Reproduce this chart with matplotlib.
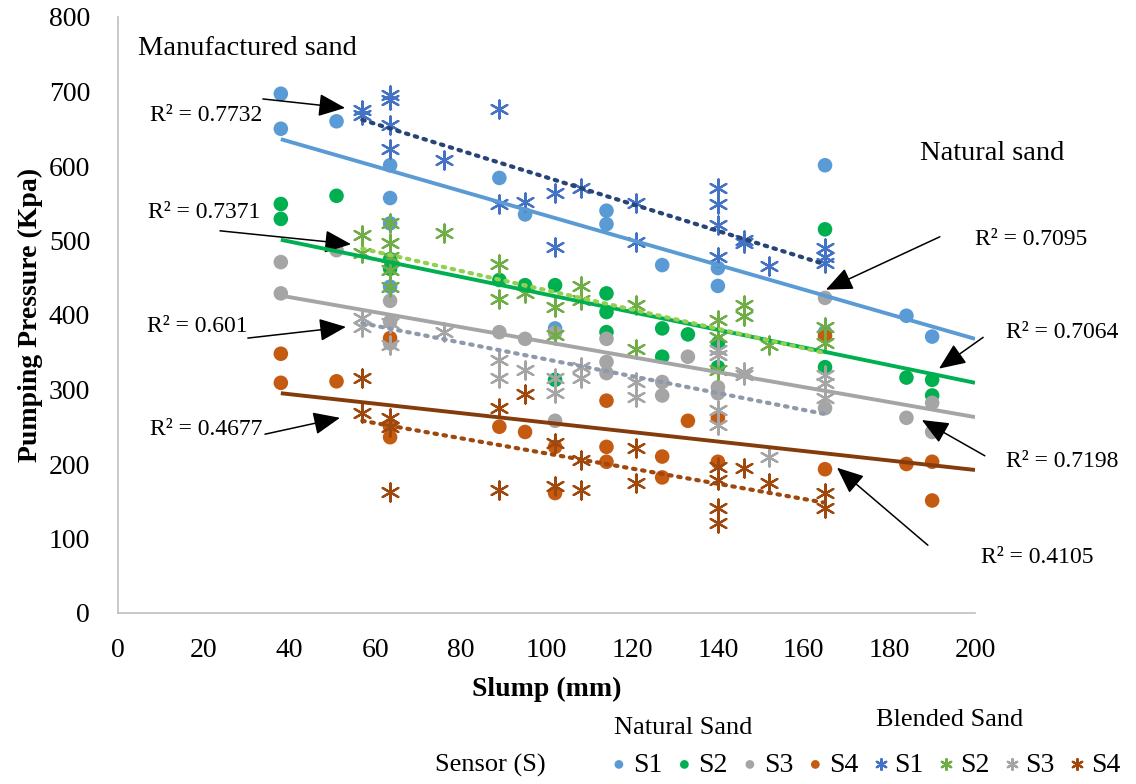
import numpy as np
import matplotlib
matplotlib.use("Agg")
import matplotlib.pyplot as plt

plt.rcParams['font.family'] = ['Liberation Serif', 'DejaVu Serif']

# Natural sand (circles)
nat_s1_x = [38, 38, 51, 63.5, 63.5, 63.5, 63.5, 89, 95, 102, 114, 114, 127, 140, 140, 165, 165, 184, 190]
nat_s1_y = [697, 650, 660, 601, 557, 523, 438, 584, 535, 382, 540, 522, 467, 463, 439, 601, 377, 399, 371]
nat_s2_x = [38, 38, 51, 63.5, 63.5, 89, 95, 102, 102, 114, 114, 114, 127, 127, 133, 140, 140, 165, 165, 184, 190, 190]
nat_s2_y = [549, 529, 560, 475, 462, 447, 440, 440, 313, 429, 404, 377, 382, 344, 374, 362, 330, 515, 330, 316, 313, 292]
nat_s3_x = [38, 38, 51, 63.5, 63.5, 63.5, 89, 95, 102, 102, 114, 114, 114, 127, 127, 133, 140, 140, 165, 165, 184, 190, 190]
nat_s3_y = [471, 429, 487, 419, 391, 362, 377, 368, 376, 258, 368, 337, 322, 310, 292, 344, 303, 295, 423, 275, 262, 282, 243]
nat_s4_x = [38, 38, 51, 63.5, 63.5, 63.5, 89, 95, 102, 102, 114, 114, 114, 127, 127, 133, 140, 140, 165, 165, 184, 190, 190]
nat_s4_y = [348, 309, 311, 369, 250, 236, 250, 243, 223, 161, 285, 223, 203, 210, 182, 258, 262, 203, 372, 193, 200, 203, 151]

# Blended sand (asterisks)
bl_s1_x = [57, 57, 63.5, 63.5, 63.5, 63.5, 76, 89, 89, 95, 102, 102, 108, 121, 121, 140, 140, 140, 140, 146, 146, 152, 165, 165, 165]
bl_s1_y = [675, 668, 695, 689, 655, 623, 608, 676, 549, 552, 564, 491, 570, 550, 498, 571, 549, 521, 478, 501, 497, 466, 490, 478, 470]
bl_s2_x = [57, 57, 63.5, 63.5, 63.5, 63.5, 63.5, 76, 89, 89, 95, 102, 102, 108, 108, 121, 121, 140, 140, 140, 146, 146, 152, 165, 165]
bl_s2_y = [507, 483, 523, 497, 478, 460, 438, 510, 468, 421, 429, 411, 373, 439, 420, 413, 355, 393, 371, 326, 413, 398, 360, 384, 362]
bl_s3_x = [57, 57, 63.5, 63.5, 76, 89, 89, 95, 102, 102, 108, 108, 121, 121, 140, 140, 140, 140, 146, 146, 152, 165, 165, 165]
bl_s3_y = [396, 384, 389, 360, 377, 340, 315, 326, 315, 295, 330, 315, 310, 290, 353, 346, 272, 252, 323, 319, 209, 319, 309, 289]
bl_s4_x = [57, 57, 63.5, 63.5, 63.5, 89, 89, 95, 102, 102, 108, 108, 121, 121, 140, 140, 140, 140, 146, 152, 165, 165]
bl_s4_y = [315, 268, 262, 250, 163, 275, 165, 294, 228, 170, 205, 165, 221, 175, 196, 179, 141, 121, 195, 175, 161, 141]

# Excel linear trend lines, values read at their two ends
nat_trend_x = [38, 200]
nat_trend_y = [(636, 368), (501, 309), (426, 263), (295, 192)]
bl_trend_x = [57, 165]
bl_trend_y = [(662, 468), (489, 349), (389, 267), (258, 148)]

nat_colors = ['#5B9BD5', '#00B050', '#A5A5A5', '#C55A11']
bl_colors = ['#4472C4', '#70AD47', '#A5A5A5', '#9E480E']
nat_trend_colors = ['#5B9BD5', '#00B050', '#A5A5A5', '#843C0C']
bl_trend_colors = ['#264478', '#92D050', '#8E9AAB', '#9E480E']

# R² labels: (text, text centre, arrow tail, arrow tip) in data units
r2_notes = [
    ("R² = 0.7732", (20.5, 668), (33.8, 690), (53.0, 678)),
    ("R² = 0.7371", (20.1, 537), (23.8, 513), (54.4, 495)),
    ("R² = 0.601", (18.4, 384), (30.3, 369), (53.2, 384)),
    ("R² = 0.4677", (20.5, 246), (34.3, 240), (51.8, 262)),
    ("R² = 0.7095", (213.1, 501), (191.8, 505), (165.2, 434)),
    ("R² = 0.7064", (220.3, 376), (201.9, 370), (191.6, 328)),
    ("R² = 0.7198", (220.3, 203), (202.3, 211), (187.6, 259)),
    ("R² = 0.4105", (214.5, 75), (189.0, 91), (167.8, 195)),
]

nat_series = [(nat_s1_x, nat_s1_y), (nat_s2_x, nat_s2_y), (nat_s3_x, nat_s3_y), (nat_s4_x, nat_s4_y)]
bl_series = [(bl_s1_x, bl_s1_y), (bl_s2_x, bl_s2_y), (bl_s3_x, bl_s3_y), (bl_s4_x, bl_s4_y)]
sensor_labels = ['S1', 'S2', 'S3', 'S4']

fig = plt.figure(figsize=(11.36, 7.84), dpi=100)
ax = fig.add_axes([118 / 1136, 1 - 613 / 784, (975 - 118) / 1136, (613 - 17) / 784])

handles = []
for (x, y), c in zip(nat_series, nat_colors):
    h = ax.scatter(x, y, s=110, color=c, edgecolors='none', zorder=3)
    handles.append(h)
for (x, y), c in zip(bl_series, bl_colors):
    h = ax.scatter(x, y, s=170, marker=(6, 2, 0), color=c, linewidths=1.6, zorder=3)
    handles.append(h)

# trend lines
for ys, c in zip(nat_trend_y, nat_trend_colors):
    ax.plot(nat_trend_x, ys, color=c, lw=2.8, zorder=4, solid_capstyle='butt')
for ys, c in zip(bl_trend_y, bl_trend_colors):
    ax.plot(bl_trend_x, ys, color=c, lw=3, ls=(0, (0.6, 1.6)), dash_capstyle='round', zorder=4)

for txt, tpos, tail, tip in r2_notes:
    ax.text(tpos[0], tpos[1], txt, ha='center', va='center', fontsize=17, clip_on=False)
    ax.annotate('', xy=tip, xytext=tail,
                arrowprops=dict(arrowstyle='-|>,head_length=0.75,head_width=0.32', color='black',
                                lw=1.1, shrinkA=0, shrinkB=0, mutation_scale=22),
                annotation_clip=False)

ax.text(30.3, 758, "Manufactured sand", ha='center', va='center', fontsize=20.5)
ax.text(204, 617, "Natural sand", ha='center', va='center', fontsize=20.5, clip_on=False)

ax.set_xlim(0, 200)
ax.set_ylim(0, 800)
ax.set_xticks(np.arange(0, 201, 20))
ax.set_yticks(np.arange(0, 801, 100))
ax.tick_params(length=0, labelsize=20)
ax.tick_params(axis='y', pad=20)
ax.tick_params(axis='x', pad=18)
for side in ['top', 'right']:
    ax.spines[side].set_visible(False)
for side in ['left', 'bottom']:
    ax.spines[side].set_color('#BFBFBF')
    ax.spines[side].set_linewidth(1.2)

ax.set_xlabel("Slump (mm)", fontsize=20, fontweight='bold', labelpad=10)
ax.set_ylabel("Pumping Pressure (Kpa)", fontsize=20, fontweight='bold', labelpad=4)

fig.legend(handles, sensor_labels * 2, ncol=8, loc='center left',
           bbox_to_anchor=(605 / 1136, 19 / 784), frameon=False, fontsize=20,
           handletextpad=0.0, columnspacing=0.3, handlelength=1.0, markerscale=0.6,
           borderaxespad=0, borderpad=0)
fig.text(490 / 1136, 19 / 784, "Sensor (S)", ha='center', va='center', fontsize=19)
fig.text(683 / 1136, 1 - 728 / 784, "Natural Sand", ha='center', va='center', fontsize=19)
fig.text(950 / 1136, 1 - 720 / 784, "Blended Sand", ha='center', va='center', fontsize=19)

fig.savefig("out.png", dpi=100)
